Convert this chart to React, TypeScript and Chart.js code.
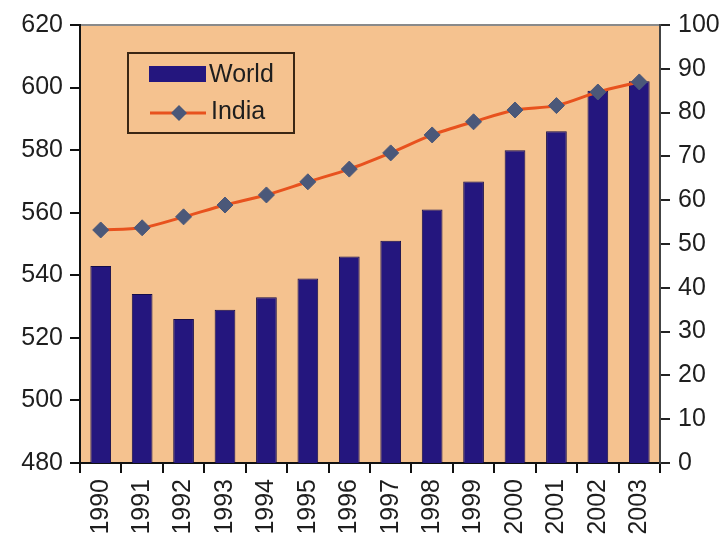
import React, { useEffect, useRef } from "react";
import { Chart, registerables } from "chart.js";

Chart.register(...registerables);

const years = ["1990", "1991", "1992", "1993", "1994", "1995", "1996", "1997", "1998", "1999", "2000", "2001", "2002", "2003"];
const worldValues = [543, 534, 526, 529, 533, 539, 546, 551, 561, 570, 580, 586, 599, 602];
const indiaValues = [53.2, 53.7, 56.2, 58.9, 61.2, 64.2, 67.1, 70.8, 74.9, 77.9, 80.6, 81.6, 84.7, 87.0];
const leftAxis = { min: 480, max: 620, step: 20 };
const rightAxis = { min: 0, max: 100, step: 10 };
const seriesNames = ["World", "India"];

const PEACH = "#F5C28F";
const BAR = "#24167E";
const LINE = "#E8521E";
const MARKER = "#4B5879";
const TEXT = "#1e1e1e";
const FONT = { family: "'Liberation Sans', Arial, sans-serif", size: 25 };

const plotPlugin = {
  id: "plotArea",
  beforeDraw(chart: any) {
    const { ctx, chartArea: a } = chart;
    ctx.save();
    ctx.fillStyle = PEACH;
    ctx.fillRect(a.left, a.top, a.right - a.left, a.bottom - a.top);
    ctx.strokeStyle = "#8a8a8a";
    ctx.lineWidth = 2;
    ctx.beginPath();
    ctx.moveTo(a.left, a.top);
    ctx.lineTo(a.right, a.top);
    ctx.stroke();
    ctx.restore();
  },
  afterDraw(chart: any) {
    const { ctx, chartArea: a } = chart;
    const x0 = a.left + 48;
    const y0 = a.top + 28;
    ctx.save();
    ctx.strokeStyle = "#3a2614";
    ctx.lineWidth = 2;
    ctx.strokeRect(x0, y0, 166, 80);
    ctx.fillStyle = BAR;
    ctx.fillRect(x0 + 21, y0 + 13, 57, 16);
    ctx.strokeStyle = LINE;
    ctx.lineWidth = 3;
    ctx.beginPath();
    ctx.moveTo(x0 + 22, y0 + 60);
    ctx.lineTo(x0 + 78, y0 + 60);
    ctx.stroke();
    const cx = x0 + 51, cy = y0 + 60, r = 8;
    ctx.fillStyle = MARKER;
    ctx.beginPath();
    ctx.moveTo(cx, cy - r);
    ctx.lineTo(cx + r, cy);
    ctx.lineTo(cx, cy + r);
    ctx.lineTo(cx - r, cy);
    ctx.closePath();
    ctx.fill();
    ctx.fillStyle = TEXT;
    ctx.font = `${FONT.size}px ${FONT.family}`;
    ctx.textBaseline = "middle";
    ctx.textAlign = "left";
    ctx.fillText(seriesNames[0], x0 + 81, y0 + 22);
    ctx.fillText(seriesNames[1], x0 + 83, y0 + 59);
    ctx.restore();
  },
};

export default function App() {
  const ref = useRef<HTMLCanvasElement | null>(null);

  useEffect(() => {
    if (!ref.current) return;
    const chart = new Chart(ref.current, {
      type: "bar",
      data: {
        labels: years,
        datasets: [
          {
            type: "line",
            label: seriesNames[1],
            data: indiaValues,
            yAxisID: "y1",
            borderColor: LINE,
            borderWidth: 3,
            pointStyle: "rectRot",
            pointRadius: 8,
            pointBackgroundColor: MARKER,
            pointBorderColor: MARKER,
            pointBorderWidth: 1,
            tension: 0.3,
            order: 0,
          } as any,
          {
            type: "bar",
            label: seriesNames[0],
            data: worldValues,
            yAxisID: "y",
            backgroundColor: BAR,
            borderColor: "#140c4a",
            borderWidth: 1,
            categoryPercentage: 0.5,
            barPercentage: 1,
            order: 1,
          } as any,
        ],
      },
      options: {
        animation: false,
        responsive: true,
        maintainAspectRatio: false,
        layout: { padding: { top: 25, left: 0, right: 0, bottom: 0 } },
        plugins: { legend: { display: false }, tooltip: { enabled: false } },
        scales: {
          x: {
            offset: true,
            grid: { offset: true, drawOnChartArea: false, tickLength: 10, tickColor: "#111", lineWidth: 2 },
            border: { display: true, color: "#111", width: 2 },
            ticks: { minRotation: 90, maxRotation: 90, autoSkip: false, font: FONT, color: TEXT, padding: 6 },
            afterFit: (s: any) => {
              s.height = 78;
              s.paddingLeft = 0;
              s.paddingRight = 0;
            },
          },
          y: {
            position: "left",
            min: leftAxis.min,
            max: leftAxis.max,
            ticks: { stepSize: leftAxis.step, font: FONT, color: TEXT, padding: 7 },
            grid: { drawOnChartArea: false, tickLength: 10, tickColor: "#111", lineWidth: 2 },
            border: { display: true, color: "#111", width: 2 },
            afterFit: (s: any) => {
              s.width = 80;
              s.paddingTop = 0;
              s.paddingBottom = 0;
            },
          },
          y1: {
            position: "right",
            min: rightAxis.min,
            max: rightAxis.max,
            ticks: { stepSize: rightAxis.step, font: FONT, color: TEXT, padding: 8 },
            grid: { drawOnChartArea: false, tickLength: 10, tickColor: "#222", lineWidth: 2 },
            border: { display: true, color: "#444", width: 2 },
            afterFit: (s: any) => {
              s.width = 66;
              s.paddingTop = 0;
              s.paddingBottom = 0;
            },
          },
        },
      } as any,
      plugins: [plotPlugin],
    });
    return () => chart.destroy();
  }, []);

  return (
    <div style={{ position: "fixed", left: 0, top: 0, width: 726, height: 541, background: "#fff" }}>
      <canvas ref={ref} />
    </div>
  );
}
